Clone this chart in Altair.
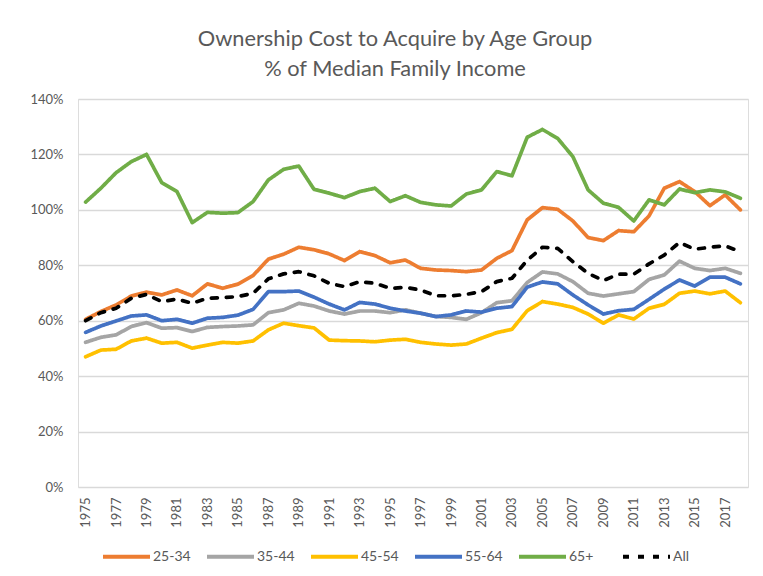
import altair as alt
import pandas as pd

years = list(range(1975, 2019))

s_25_34 = [60.5, 63.3, 65.7, 68.9, 70.3, 69.3, 71.1, 69.0, 73.3, 71.7, 73.2, 76.3, 82.2, 84.0, 86.5, 85.6,
           84.1, 81.7, 84.9, 83.5, 80.9, 81.9, 78.9, 78.3, 78.1, 77.7, 78.3, 82.5, 85.3, 96.4, 100.8,
           100.2, 96.0, 90.0, 88.9, 92.5, 92.1, 97.8, 107.8, 110.2, 106.6, 101.5, 105.4, 100.0]
s_35_44 = [52.2, 54.0, 54.9, 57.9, 59.3, 57.3, 57.5, 56.1, 57.6, 57.9, 58.1, 58.5, 62.9, 63.9, 66.3, 65.3,
           63.5, 62.4, 63.5, 63.5, 62.9, 63.9, 62.7, 61.5, 61.2, 60.5, 62.9, 66.5, 67.2, 73.8, 77.6,
           76.9, 74.1, 69.9, 68.9, 69.7, 70.5, 74.9, 76.5, 81.5, 78.9, 78.1, 78.9, 77.1]
s_45_54 = [47.0, 49.4, 49.7, 52.7, 53.7, 51.9, 52.2, 50.1, 51.2, 52.2, 51.9, 52.7, 56.7, 59.1, 58.2, 57.4,
           53.0, 52.8, 52.7, 52.4, 53.0, 53.3, 52.2, 51.6, 51.2, 51.6, 53.7, 55.7, 56.9, 63.6, 66.9,
           66.0, 64.8, 62.4, 59.1, 62.1, 60.6, 64.5, 65.9, 69.9, 70.7, 69.7, 70.7, 66.5]
s_55_64 = [55.8, 58.1, 59.9, 61.7, 62.1, 60.0, 60.5, 59.1, 60.9, 61.2, 62.0, 64.1, 70.5, 70.5, 70.7, 68.5,
           66.0, 63.9, 66.6, 66.0, 64.5, 63.5, 62.7, 61.5, 62.1, 63.5, 63.1, 64.5, 65.1, 72.1, 74.0,
           73.3, 69.3, 65.7, 62.4, 63.6, 64.1, 67.7, 71.4, 74.7, 72.5, 75.7, 75.7, 73.3]
s_65_plus = [102.8, 107.8, 113.4, 117.4, 120.0, 109.8, 106.6, 95.4, 99.1, 98.8, 99.0, 103.0, 110.8, 114.6, 115.8, 107.4,
             106.0, 104.4, 106.6, 107.8, 103.0, 105.1, 102.7, 101.8, 101.4, 105.7, 107.2, 113.8, 112.3, 126.2, 129.0,
             125.8, 119.2, 107.2, 102.4, 100.9, 96.0, 103.6, 101.8, 107.5, 106.2, 107.2, 106.5, 104.2]
s_all = [60.0, 62.9, 64.5, 68.1, 69.5, 66.9, 67.8, 66.3, 68.1, 68.3, 68.7, 69.9, 75.1, 76.9, 77.7, 76.2,
         73.5, 72.3, 74.1, 73.5, 71.7, 72.0, 71.1, 69.0, 69.0, 69.5, 70.5, 74.1, 75.3, 81.8, 86.5,
         86.1, 81.3, 77.1, 74.5, 76.8, 76.8, 80.5, 83.7, 88.2, 85.8, 86.5, 87.0, 84.9]

series_names = ["25-34", "35-44", "45-54", "55-64", "65+", "All"]
series_values = [s_25_34, s_35_44, s_45_54, s_55_64, s_65_plus, s_all]
colors = ["#ED7D31", "#A5A5A5", "#FFC000", "#4472C4", "#70AD47", "#000000"]
dashes = [[1, 0], [1, 0], [1, 0], [1, 0], [1, 0], [6, 9]]
y_ticks = [0, 20, 40, 60, 80, 100, 120, 140]
x_ticks = list(range(1975, 2018, 2))

rows = []
for name, vals in zip(series_names, series_values):
    for yr, v in zip(years, vals):
        rows.append({"Year": yr, "Series": name, "Value": v})
df = pd.DataFrame(rows)

TXT = "#595959"
FONT = "Lato"

legend = alt.Legend(
    title=None, orient="none", direction="horizontal", columns=6,
    legendX=23, legendY=432, gridAlign="all",
    symbolType="stroke", symbolSize=2209, symbolStrokeWidth=4,
    labelFont=FONT, labelFontSize=14, labelColor=TXT,
    columnPadding=8, labelOffset=1,
)

chart = alt.Chart(df).mark_line(strokeWidth=3.7, strokeCap="round", strokeJoin="round").encode(
    x=alt.X("Year:Q",
            scale=alt.Scale(domain=[1974.5, 2018.5], nice=False, zero=False),
            axis=alt.Axis(values=x_ticks, format="d", labelAngle=-90, title=None, grid=False,
                          ticks=False, domain=False, labelPadding=10, labelFont=FONT,
                          labelFontSize=13, labelColor=TXT)),
    y=alt.Y("Value:Q",
            scale=alt.Scale(domain=[0, 140], nice=False),
            axis=alt.Axis(values=y_ticks, labelExpr="datum.value + '%'", title=None, ticks=False,
                          domain=False, gridColor="#D9D9D9", gridWidth=1.5, labelPadding=15,
                          labelFont=FONT, labelFontSize=13, labelColor=TXT)),
    color=alt.Color("Series:N", scale=alt.Scale(domain=series_names, range=colors), legend=legend),
    strokeDash=alt.StrokeDash("Series:N", scale=alt.Scale(domain=series_names, range=dashes), legend=legend),
).properties(
    width=670, height=388,
    autosize=alt.AutoSizeParams(type="none"),
    padding={"left": 70, "top": 91, "right": 7, "bottom": 80},
    title=alt.TitleParams(
        text=["Ownership Cost to Acquire by Age Group", "% of Median Family Income"],
        font=FONT, fontSize=21.8, fontWeight="normal", color=TXT,
        anchor="middle", dx=-18, lineHeight=30, offset=12,
    ),
).configure_view(stroke=None).configure(background="white")

chart.save("out.html", embed_options={"renderer": "svg", "actions": False})
